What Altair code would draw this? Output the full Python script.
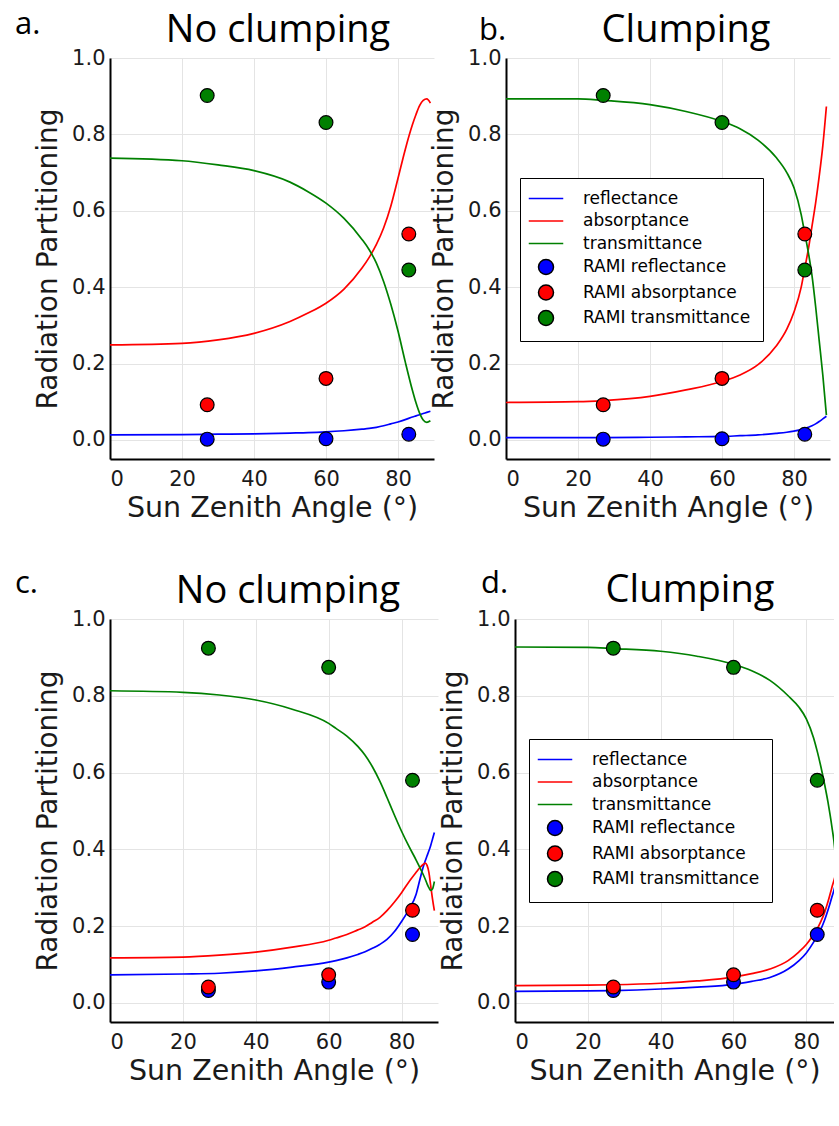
import altair as alt
import pandas as pd

LINE_NAMES = ["reflectance", "absorptance", "transmittance"]
PT_NAMES = ["RAMI reflectance", "RAMI absorptance", "RAMI transmittance"]
COLORS = ["#0000ff", "#ff0000", "#008000"]

x_ticks = [0, 20, 40, 60, 80]
y_ticks = [0.0, 0.2, 0.4, 0.6, 0.8, 1.0]

# RAMI reference points
rami_angles = [27, 60, 83]
rami_top_refl = [0.002, 0.003, 0.015]
rami_top_abs = [0.092, 0.161, 0.539]
rami_top_trans = [0.902, 0.831, 0.445]
rami_bot_refl = [0.032, 0.054, 0.178]
rami_bot_abs = [0.041, 0.073, 0.241]
rami_bot_trans = [0.924, 0.874, 0.580]

# panel a (no clumping, top)
a_ang = [0, 20, 30, 40, 50, 55, 60, 65, 70, 72, 74, 76, 78, 80, 82, 84, 85, 86, 87, 88, 89]
a_refl = [0.013, 0.014, 0.015, 0.016, 0.018, 0.019, 0.021, 0.024, 0.028, 0.030, 0.033, 0.037, 0.042, 0.047, 0.053, 0.060, 0.063, 0.066, 0.069, 0.072, 0.075]
a_abs = [0.249, 0.253, 0.262, 0.279, 0.310, 0.332, 0.358, 0.395, 0.450, 0.478, 0.512, 0.555, 0.612, 0.685, 0.760, 0.825, 0.852, 0.875, 0.889, 0.893, 0.882]
a_trans = [0.738, 0.731, 0.720, 0.705, 0.675, 0.650, 0.620, 0.580, 0.525, 0.498, 0.463, 0.415, 0.355, 0.285, 0.205, 0.130, 0.097, 0.070, 0.052, 0.046, 0.050]

# panel b (clumping, top)
b_ang = [0, 20, 27, 40, 50, 60, 65, 70, 75, 78, 80, 82, 83, 84, 85, 86, 87, 88, 89]
b_refl = [0.006, 0.006, 0.006, 0.007, 0.008, 0.009, 0.011, 0.013, 0.017, 0.020, 0.023, 0.027, 0.030, 0.033, 0.037, 0.042, 0.048, 0.055, 0.062]
b_abs = [0.098, 0.100, 0.103, 0.114, 0.131, 0.153, 0.170, 0.197, 0.245, 0.290, 0.335, 0.400, 0.450, 0.500, 0.560, 0.620, 0.690, 0.770, 0.873]
b_trans = [0.893, 0.893, 0.889, 0.878, 0.860, 0.834, 0.815, 0.785, 0.740, 0.700, 0.660, 0.590, 0.540, 0.490, 0.430, 0.350, 0.260, 0.170, 0.065]

# panel c (no clumping, bottom)
c_ang = [0, 20, 30, 40, 50, 60, 62, 65, 68, 70, 72, 74, 76, 78, 80, 82, 84, 85, 86, 86.5, 87, 87.5, 88, 88.5, 89]
c_refl = [0.073, 0.075, 0.077, 0.083, 0.093, 0.106, 0.110, 0.117, 0.126, 0.133, 0.142, 0.152, 0.165, 0.185, 0.212, 0.243, 0.283, 0.320, 0.356, 0.370, 0.383, 0.396, 0.410, 0.427, 0.444]
c_abs = [0.117, 0.119, 0.124, 0.132, 0.145, 0.163, 0.169, 0.178, 0.190, 0.198, 0.210, 0.222, 0.240, 0.262, 0.287, 0.315, 0.340, 0.352, 0.361, 0.364, 0.358, 0.340, 0.305, 0.270, 0.240]
c_trans = [0.813, 0.809, 0.802, 0.789, 0.765, 0.728, 0.715, 0.695, 0.668, 0.645, 0.615, 0.578, 0.535, 0.490, 0.447, 0.408, 0.372, 0.353, 0.333, 0.322, 0.310, 0.300, 0.293, 0.297, 0.316]

# panel d (clumping, bottom)
d_ang = [0, 20, 27, 40, 50, 60, 65, 70, 75, 78, 80, 82, 83, 84, 85, 86, 87, 88, 89]
d_refl = [0.030, 0.031, 0.032, 0.036, 0.041, 0.048, 0.056, 0.066, 0.088, 0.110, 0.130, 0.158, 0.175, 0.192, 0.215, 0.243, 0.275, 0.310, 0.380]
d_abs = [0.045, 0.046, 0.047, 0.051, 0.057, 0.067, 0.076, 0.088, 0.110, 0.133, 0.152, 0.178, 0.193, 0.212, 0.235, 0.265, 0.300, 0.335, 0.400]
d_trans = [0.927, 0.926, 0.923, 0.916, 0.903, 0.882, 0.865, 0.840, 0.800, 0.770, 0.740, 0.690, 0.655, 0.615, 0.570, 0.520, 0.460, 0.380, 0.200]

AX_FONT = "DejaVu Sans"
TITLE_FONT = "Open Sans"

is_line = "indexof(['reflectance','absorptance','transmittance'], datum.value) >= 0"
col_expr = ("(indexof(['reflectance','RAMI reflectance'], datum.value) >= 0 ? '#0000ff' : "
            "(indexof(['absorptance','RAMI absorptance'], datum.value) >= 0 ? '#ff0000' : '#008000'))")


def make_legend():
    return alt.Legend(
        title=None,
        orient="none",
        legendX=14,
        legendY=120,
        strokeColor="black",
        fillColor="white",
        padding=12,
        cornerRadius=0,
        rowPadding=4.5,
        symbolSize=225,
        symbolOffset=5.5,
        labelOffset=28.5,
        labelLimit=400,
        labelFont=AX_FONT,
        labelFontSize=17,
        labelColor="black",
        symbolStrokeWidth=1.5,
        symbolOpacity=1,
        symbolType={"expr": f"{is_line} ? 'M-2.3,0H2.3' : 'circle'"},
        symbolFillColor={"expr": col_expr},
        symbolStrokeColor={"expr": f"{is_line} ? {col_expr} : 'black'"},
    )


def build_panel(letter, ldx, ldy, title, tx, ty, ang, refl, absn, trans,
                r_refl, r_abs, r_trans, width, height, xmax, legend):
    n = len(ang)
    lines = pd.DataFrame({
        "angle": ang * 3,
        "value": refl + absn + trans,
        "series": [LINE_NAMES[0]] * n + [LINE_NAMES[1]] * n + [LINE_NAMES[2]] * n,
    })
    m = len(rami_angles)
    pts = pd.DataFrame({
        "angle": rami_angles * 3,
        "value": r_refl + r_abs + r_trans,
        "series": [PT_NAMES[0]] * m + [PT_NAMES[1]] * m + [PT_NAMES[2]] * m,
    })
    cscale = alt.Scale(domain=LINE_NAMES + PT_NAMES, range=COLORS + COLORS)
    sscale = alt.Scale(domain=LINE_NAMES, range=COLORS)
    leg = make_legend() if legend else None

    x = alt.X("angle:Q",
              scale=alt.Scale(domain=[0, xmax], nice=False, zero=False),
              axis=alt.Axis(values=x_ticks, title="Sun Zenith Angle (°)",
                            labelPadding=9, titlePadding=4, titleFontSize=28.5))
    y = alt.Y("value:Q",
              scale=alt.Scale(domain=[-0.05, 1.0], nice=False, zero=False),
              axis=alt.Axis(values=y_ticks, format=".1f", title="Radiation Partitioning",
                            labelPadding=5, titlePadding=9))

    line_layer = alt.Chart(lines).mark_line(
        strokeWidth=1.7, interpolate="monotone", clip=True
    ).encode(
        x=x, y=y,
        stroke=alt.Stroke("series:N", scale=sscale, legend=None),
    )
    pt_layer = alt.Chart(pts).mark_point(
        filled=True, size=190, stroke="black", strokeWidth=1.2, opacity=1
    ).encode(
        x="angle:Q", y="value:Q",
        color=alt.Color("series:N", scale=cscale, legend=leg),
    )
    letter_layer = alt.Chart(pd.DataFrame({"t": [letter]})).mark_text(
        font=TITLE_FONT, fontSize=31, align="left", baseline="alphabetic", color="black"
    ).encode(x=alt.value(ldx), y=alt.value(ldy), text="t:N")
    title_layer = alt.Chart(pd.DataFrame({"t": [title]})).mark_text(
        font=TITLE_FONT, fontSize=38, align="center", baseline="alphabetic", color="black"
    ).encode(x=alt.value(tx), y=alt.value(ty), text="t:N")

    return alt.layer(line_layer, pt_layer, letter_layer, title_layer).properties(
        width=width, height=height,
    )


pa = build_panel("a.", -95, -24, "No clumping", 168, -16, a_ang, a_refl, a_abs, a_trans,
                 rami_top_refl, rami_top_abs, rami_top_trans, 324, 401, 90, False)
pb = build_panel("b.", -27, -18, "Clumping", 180, -16, b_ang, b_refl, b_abs, b_trans,
                 rami_top_refl, rami_top_abs, rami_top_trans, 324, 401, 90, True)
pc = build_panel("c.", -95, -26, "No clumping", 178, -16, c_ang, c_refl, c_abs, c_trans,
                 rami_bot_refl, rami_bot_abs, rami_bot_trans, 328, 403, 90, False)
pd_ = build_panel("d.", -34, -26, "Clumping", 175, -17, d_ang, d_refl, d_abs, d_trans,
                  rami_bot_refl, rami_bot_abs, rami_bot_trans, 319, 403, 87.6, True)

row1 = alt.hconcat(pa, pb, spacing=-4).resolve_scale(
    color="independent", stroke="independent").resolve_legend(color="independent")
row2 = alt.hconcat(pc, pd_, spacing=1).resolve_scale(
    color="independent", stroke="independent").resolve_legend(color="independent")

chart = alt.vconcat(row1, row2, spacing=46).resolve_scale(
    color="independent", stroke="independent").resolve_legend(color="independent").properties(
    padding={"left": 15, "top": 9, "right": 0, "bottom": 0}
).configure_view(stroke=None).configure_axis(
    domainColor="black", domainWidth=2, ticks=False, tickSize=0,
    gridColor="#e4e4e4", gridWidth=1,
    labelFont=AX_FONT, labelFontSize=21, labelColor="#1a1a1a",
    titleFont=AX_FONT, titleFontSize=28, titleFontWeight="normal", titleColor="#1a1a1a",
)

chart.save("out.html", embed_options={"renderer": "svg", "actions": False})
